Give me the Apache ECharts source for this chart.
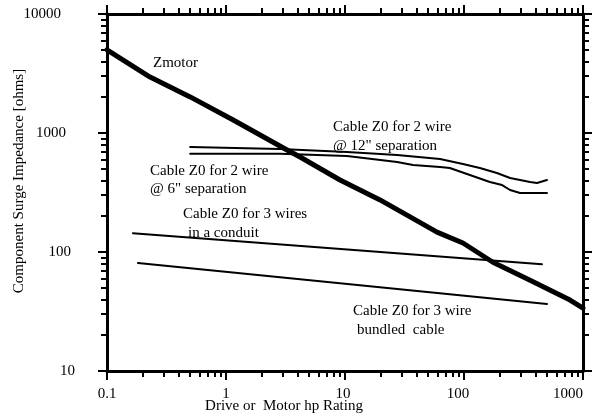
<!DOCTYPE html>
<html>
<head>
<meta charset="utf-8">
<script src="https://cdn.jsdelivr.net/npm/echarts@6/dist/echarts.min.js"></script>
<style>
html,body{margin:0;padding:0;background:#fff;}
#chart{width:598px;height:419px;}
</style>
</head>
<body>
<div id="chart"></div>
<script>
// ---- data ----
const zmotorX = [0.1, 0.23, 0.5, 1.15, 3.26, 4.19, 9.08, 19.7, 59.3, 98, 175, 359, 778, 1000];
const zmotorY = [5000, 2950, 2010, 1285, 720, 628, 403, 274, 147, 119, 82, 58, 39.5, 33.8];

const cable12X = [0.5, 2.84, 10.4, 27.4, 62.9, 98, 136, 189, 244, 359, 411, 498];
const cable12Y = [762, 734, 692, 653, 605, 549, 508, 461, 419, 387, 380, 403];

const cable6X = [0.5, 2.84, 10.4, 27.4, 37.3, 62.9, 76, 112, 165, 209, 244, 296, 498];
const cable6Y = [670, 670, 641, 571, 538, 518, 508, 444, 387, 365, 332, 313, 313];

const conduitX = [0.165, 452];
const conduitY = [144, 79];

const bundledX = [0.182, 498];
const bundledY = [80.8, 36.6];

const xTickLabels = ['0.1', '1', '10', '100', '1000'];
const yTickLabels = ['10', '100', '1000', '10000'];

const xMinor = [];
[0.1, 1, 10, 100].forEach(d => { for (let k = 2; k <= 9; k++) xMinor.push(+(d * k).toPrecision(3)); });
const yMinor = [];
[10, 100, 1000].forEach(d => { for (let k = 2; k <= 9; k++) yMinor.push(d * k); });

const FONT = '"Liberation Serif", "Times New Roman", serif';
const pairs = (xs, ys) => xs.map((x, i) => [x, ys[i]]);

// ---- chart ----
const chart = echarts.init(document.getElementById('chart'));

const xPad = { '0.1': 0, '1': 0, '10': 4, '100': 12, '1000': 30 };
const yPad = { '10': 0, '100': 4, '1000': 9, '10000': 14 };

function baseX(pos, major, showLabel) {
  return {
    type: 'log', logBase: 10, min: 0.1, max: 1000, position: pos,
    gridIndex: 0,
    axisLine: { show: major, onZero: false, lineStyle: { color: '#000', width: 3 } },
    axisTick: major
      ? { show: true, inside: false, length: 9, lineStyle: { color: '#000', width: 2 } }
      : { show: true, inside: false, length: 6, customValues: xMinor, lineStyle: { color: '#000', width: 2 } },
    axisLabel: showLabel ? {
      show: true, margin: 16, color: '#000', fontFamily: FONT, fontSize: 15,
      formatter: v => { const s = String(v); return '{p' + (xPad[s] || 0) + '|' + s + '}'; },
      rich: { p0: { padding: [0, 0, 0, 0] }, p4: { padding: [0, 4, 0, 0] }, p12: { padding: [0, 12, 0, 0] }, p30: { padding: [0, 30, 0, 0] } }
    } : { show: false },
    splitLine: { show: false },
    minorTick: { show: false },
    minorSplitLine: { show: false }
  };
}
function baseY(pos, major, showLabel) {
  return {
    type: 'log', logBase: 10, min: 10, max: 10000, position: pos,
    gridIndex: 0,
    axisLine: { show: major, onZero: false, lineStyle: { color: '#000', width: 3 } },
    axisTick: major
      ? { show: true, inside: false, length: 9, lineStyle: { color: '#000', width: 2 } }
      : { show: true, inside: false, length: 6, customValues: yMinor, lineStyle: { color: '#000', width: 2 } },
    axisLabel: showLabel ? {
      show: true, margin: 32, color: '#000', fontFamily: FONT, fontSize: 15,
      formatter: v => { const s = String(v); return '{p' + (yPad[s] || 0) + '|' + s + '}'; },
      rich: { p0: { padding: [0, 0, 0, 0] }, p4: { padding: [0, 4, 0, 0] }, p9: { padding: [0, 9, 0, 0] }, p14: { padding: [0, 14, 0, 0] } }
    } : { show: false },
    splitLine: { show: false },
    minorTick: { show: false },
    minorSplitLine: { show: false }
  };
}

function lineSeries(name, xs, ys, w) {
  return {
    name, type: 'line', xAxisIndex: 0, yAxisIndex: 0,
    data: pairs(xs, ys), showSymbol: false, symbol: 'none',
    lineStyle: { color: '#000', width: w, cap: 'round', join: 'round' },
    silent: true, animation: false
  };
}

function txt(text, x, y, rot) {
  return {
    type: 'text', x, y, rotation: rot || 0, silent: true,
    style: { text, fill: '#000', font: '15px ' + FONT, textAlign: rot ? 'center' : 'left', textVerticalAlign: 'middle' }
  };
}

chart.setOption({
  animation: false,
  backgroundColor: '#fff',
  grid: { left: 107, right: 15, top: 14, bottom: 48, containLabel: false, outerBoundsMode: 'none' },
  xAxis: [baseX('bottom', true, true), baseX('bottom', false, false), baseX('top', true, false), baseX('top', false, false)],
  yAxis: [baseY('left', true, true), baseY('left', false, false), baseY('right', true, false), baseY('right', false, false)],
  series: [
    lineSeries('Zmotor', zmotorX, zmotorY, 5),
    lineSeries('Cable 12', cable12X, cable12Y, 2),
    lineSeries('Cable 6', cable6X, cable6Y, 2),
    lineSeries('Conduit', conduitX, conduitY, 2),
    lineSeries('Bundled', bundledX, bundledY, 2)
  ],
  graphic: [
    txt('Zmotor', 153, 63),
    txt('Cable Z0 for 2 wire', 333, 127),
    txt('@ 12" separation', 333, 146),
    txt('Cable Z0 for 2 wire', 150, 171),
    txt('@ 6" separation', 150, 189),
    txt('Cable Z0 for 3 wires', 183, 214),
    txt('in a conduit', 188, 233),
    txt('Cable Z0 for 3 wire', 353, 311),
    txt('bundled  cable', 357, 330),
    { type: 'text', x: 284, y: 406, silent: true,
      style: { text: 'Drive or  Motor hp Rating', fill: '#000', font: '15px ' + FONT, textAlign: 'center', textVerticalAlign: 'middle' } },
    { type: 'text', x: 19, y: 181, rotation: Math.PI / 2, silent: true,
      style: { text: 'Component Surge Impedance [ohms]', fill: '#000', font: '15px ' + FONT, textAlign: 'center', textVerticalAlign: 'middle' } }
  ]
});
</script>
</body>
</html>
